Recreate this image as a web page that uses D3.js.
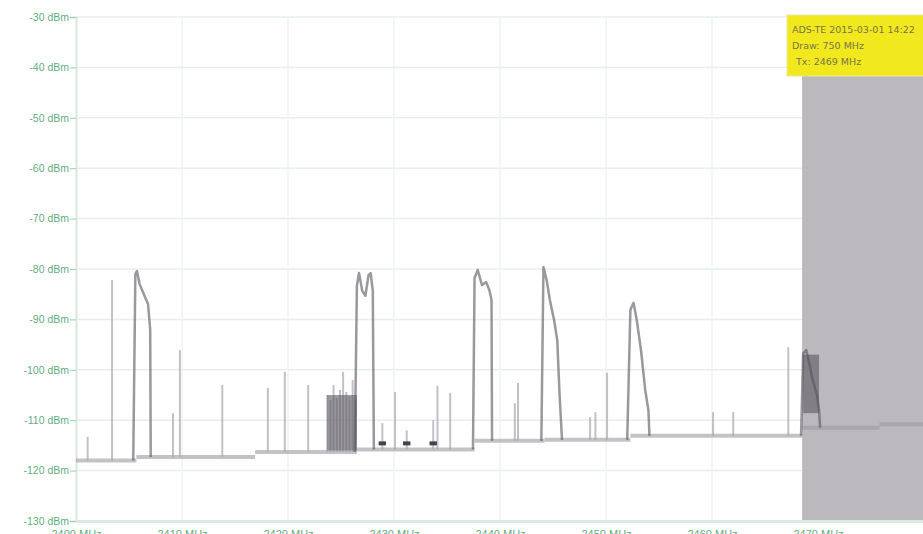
<!DOCTYPE html>
<html>
<head>
<meta charset="utf-8">
<script src="https://cdnjs.cloudflare.com/ajax/libs/d3/7.8.5/d3.min.js"></script>
<style>
    body { margin: 0; background: #fff; }
    svg { display: block; font-family: "DejaVu Sans", sans-serif; }
</style>
</head>
<body>
<div id="chart"></div>
<script>
// axis ticks
var yTicks = [-30, -40, -50, -60, -70, -80, -90, -100, -110, -120, -130];
var xTicks = [2400, 2410, 2420, 2430, 2440, 2450, 2460, 2470];
var xTickLabels = ["2400 MHz", "2410 MHz", "2420 MHz", "2430 MHz", "2440 MHz", "2450 MHz", "2460 MHz", "2470 MHz"];

// noise floor, [from MHz, to MHz, dBm]
var floorSegments = [
    [2400.0, 2405.7, -118.0],
    [2405.7, 2416.9, -117.3],
    [2416.9, 2426.5, -116.3],
    [2426.5, 2437.6, -115.8],
    [2437.6, 2444.2, -114.1],
    [2444.2, 2452.3, -113.9],
    [2452.3, 2468.5, -113.1],
    [2468.5, 2475.8, -111.5],
    [2475.8, 2480.0, -110.8]
];

// single short spikes, [MHz, peak dBm]
var spikes = [
    [2401.1, -113.3], [2403.4, -82.2], [2409.15, -108.6], [2409.8, -96.1],
    [2413.8, -103.0], [2418.1, -103.6], [2419.7, -100.4], [2421.9, -103.0],
    [2423.7, -105.0], [2424.0, -106.0], [2424.3, -103.0], [2424.6, -105.6],
    [2424.9, -104.0], [2425.2, -100.4], [2425.5, -104.4], [2425.8, -105.4],
    [2426.1, -102.0], [2426.4, -106.0],
    [2428.9, -110.6], [2430.1, -104.4], [2431.2, -112.0], [2433.7, -110.0],
    [2434.1, -103.2], [2435.3, -104.6], [2441.4, -106.6], [2441.7, -102.6],
    [2448.5, -109.4], [2449.0, -108.4], [2450.1, -100.6], [2460.1, -108.4],
    [2462.0, -108.4], [2467.2, -95.5]
];

// dense bursts of activity, [MHz, dBm]
var burstA = [[2405.4, -118.0], [2405.6, -81.0], [2405.75, -80.4], [2406.0, -83.0], [2406.4, -85.0], [2406.8, -87.0], [2407.0, -92.0], [2407.05, -117.3]];
var burstB = [[2426.3, -116.3], [2426.5, -83.3], [2426.7, -80.8], [2427.0, -84.3], [2427.3, -85.3], [2427.6, -81.2], [2427.8, -80.8], [2428.0, -84.3], [2428.1, -115.8]];
var burstC = [[2437.45, -115.8], [2437.6, -81.8], [2437.9, -80.2], [2438.3, -83.2], [2438.7, -82.6], [2439.0, -84.2], [2439.2, -86.1], [2439.25, -114.1]];
var burstD = [[2443.9, -114.1], [2444.1, -79.6], [2444.4, -82.2], [2444.7, -86.1], [2445.1, -90.1], [2445.4, -94.1], [2445.6, -104.0], [2445.75, -110.0], [2445.85, -113.9]];
var burstE = [[2452.0, -113.9], [2452.3, -88.1], [2452.6, -86.7], [2452.9, -90.1], [2453.3, -96.1], [2453.7, -104.0], [2454.0, -108.0], [2454.1, -113.1]];
var burstF = [[2468.4, -113.1], [2468.6, -96.8], [2468.9, -96.1], [2469.2, -99.0], [2469.5, -102.0], [2469.9, -105.0], [2470.1, -108.0], [2470.2, -111.5]];
var bursts = [burstA, burstB, burstC, burstD, burstE, burstF];

// packed regions, [from MHz, to MHz, top dBm, bottom dBm]
var clusters = [
    [2423.7, 2426.5, -105.0, -116.0],
    [2468.6, 2470.1, -97.0, -108.6]
];

// short marks sitting on the floor, [MHz, dBm]
var blips = [[2428.9, -114.6], [2431.2, -114.6], [2433.7, -114.6]];

// band greyed out at the right, [from MHz, to MHz]
var blockedBand = [2468.5, 2480];

// marker note
var noteLines = ["ADS-TE  2015-03-01 14:22", "Draw: 750 MHz", "Tx: 2469 MHz"];

function makeSpectrum() {
    var width = 923,
        height = 534;

    var svg = d3.select("#chart")
        .append("svg")
        .attr("width", width)
        .attr("height", height);

    var x = d3.scaleLinear()
        .domain([2400, 2480])
        .range([76, 924]);

    var y = d3.scaleLinear()
        .domain([-130, -30])
        .range([521, 17]);

    // floor level at a frequency
    function floorAt(f) {
        var seg = floorSegments.find(function (s) { return f >= s[0] && f <= s[1]; });
        return seg ? seg[2] : -118;
    }

    // grid
    svg.append("g")
        .selectAll("line")
        .data(yTicks)
        .enter().append("line")
        .attr("x1", 76).attr("x2", width)
        .attr("y1", function (d) { return y(d); })
        .attr("y2", function (d) { return y(d); })
        .attr("stroke", "#e6f0ea")
        .attr("stroke-width", 1.5);

    svg.append("g")
        .selectAll("line")
        .data(xTicks.slice(1))
        .enter().append("line")
        .attr("x1", function (d) { return x(d); })
        .attr("x2", function (d) { return x(d); })
        .attr("y1", y(-30)).attr("y2", y(-130))
        .attr("stroke", "#eef4f0")
        .attr("stroke-width", 1.5);

    // grey band, over the grid
    svg.append("rect")
        .attr("x", x(blockedBand[0]))
        .attr("y", y(-30))
        .attr("width", x(blockedBand[1]) - x(blockedBand[0]))
        .attr("height", y(-130) - y(-30) + 2)
        .attr("fill", "#bbb9bd");

    // y axis
    var yAxis = d3.axisLeft(y)
        .tickValues(yTicks)
        .tickSize(6)
        .tickFormat(function (d) { return d + " dBm"; });

    var gy = svg.append("g")
        .attr("transform", "translate(76,0)")
        .call(yAxis);
    gy.select(".domain").attr("stroke", "#d9e8de").attr("stroke-width", 2);
    gy.selectAll(".tick line").attr("stroke", "#9fcdb0");
    gy.selectAll("text")
        .attr("fill", "#5fae80")
        .attr("font-size", "10.5px")
        .attr("x", -7);

    // x axis
    var xAxis = d3.axisBottom(x)
        .tickValues(xTicks)
        .tickSize(0)
        .tickFormat(function (d, i) { return xTickLabels[i]; });

    var gx = svg.append("g")
        .attr("transform", "translate(0," + y(-130) + ")")
        .call(xAxis);
    gx.select(".domain").attr("stroke", "#dcebe1").attr("stroke-width", 3);
    gx.selectAll("text")
        .attr("fill", "#5fae80")
        .attr("font-size", "11px")
        .attr("dy", "0")
        .attr("y", 17);

    // noise floor
    svg.append("g")
        .selectAll("line")
        .data(floorSegments)
        .enter().append("line")
        .attr("x1", function (d) { return x(d[0]); })
        .attr("x2", function (d) { return x(d[1]); })
        .attr("y1", function (d) { return y(d[2]); })
        .attr("y2", function (d) { return y(d[2]); })
        .attr("stroke", "#9d99a2")
        .attr("stroke-opacity", 0.6)
        .attr("stroke-width", 4);

    // spikes
    svg.append("g")
        .selectAll("line")
        .data(spikes)
        .enter().append("line")
        .attr("x1", function (d) { return x(d[0]); })
        .attr("x2", function (d) { return x(d[0]); })
        .attr("y1", function (d) { return y(floorAt(d[0])); })
        .attr("y2", function (d) { return y(d[1]); })
        .attr("stroke", "#a9a5ae")
        .attr("stroke-opacity", 0.7)
        .attr("stroke-width", 2);

    // packed regions
    svg.append("g")
        .selectAll("rect")
        .data(clusters)
        .enter().append("rect")
        .attr("x", function (d) { return x(d[0]); })
        .attr("y", function (d) { return y(d[2]); })
        .attr("width", function (d) { return x(d[1]) - x(d[0]); })
        .attr("height", function (d) { return y(d[3]) - y(d[2]); })
        .attr("fill", "#5a5660")
        .attr("fill-opacity", 0.6);

    // bursts
    var line = d3.line()
        .x(function (d) { return x(d[0]); })
        .y(function (d) { return y(d[1]); });

    svg.append("g")
        .selectAll("path")
        .data(bursts)
        .enter().append("path")
        .attr("d", line)
        .attr("fill", "none")
        .attr("stroke", "#57535d")
        .attr("stroke-opacity", 0.6)
        .attr("stroke-width", 2.5)
        .attr("stroke-linejoin", "round");

    svg.append("g")
        .selectAll("line")
        .data(blips)
        .enter().append("line")
        .attr("x1", function (d) { return x(d[0] - 0.35); })
        .attr("x2", function (d) { return x(d[0] + 0.35); })
        .attr("y1", function (d) { return y(d[1]); })
        .attr("y2", function (d) { return y(d[1]); })
        .attr("stroke", "#45414b")
        .attr("stroke-width", 4);

    // marker note
    var note = svg.append("g").attr("transform", "translate(787,15)");
    note.append("rect")
        .attr("width", 140)
        .attr("height", 61)
        .attr("fill", "#f1e91e")
        .attr("stroke", "#ece79a");
    note.selectAll("text")
        .data(noteLines)
        .enter().append("text")
        .attr("x", function (d, i) { return i == 2 ? 9 : 5; })
        .attr("y", function (d, i) { return 18 + i * 16; })
        .attr("font-size", "9.5px")
        .attr("fill", "#77734e")
        .text(function (d) { return d; });
}

makeSpectrum();
</script>
</body>
</html>
